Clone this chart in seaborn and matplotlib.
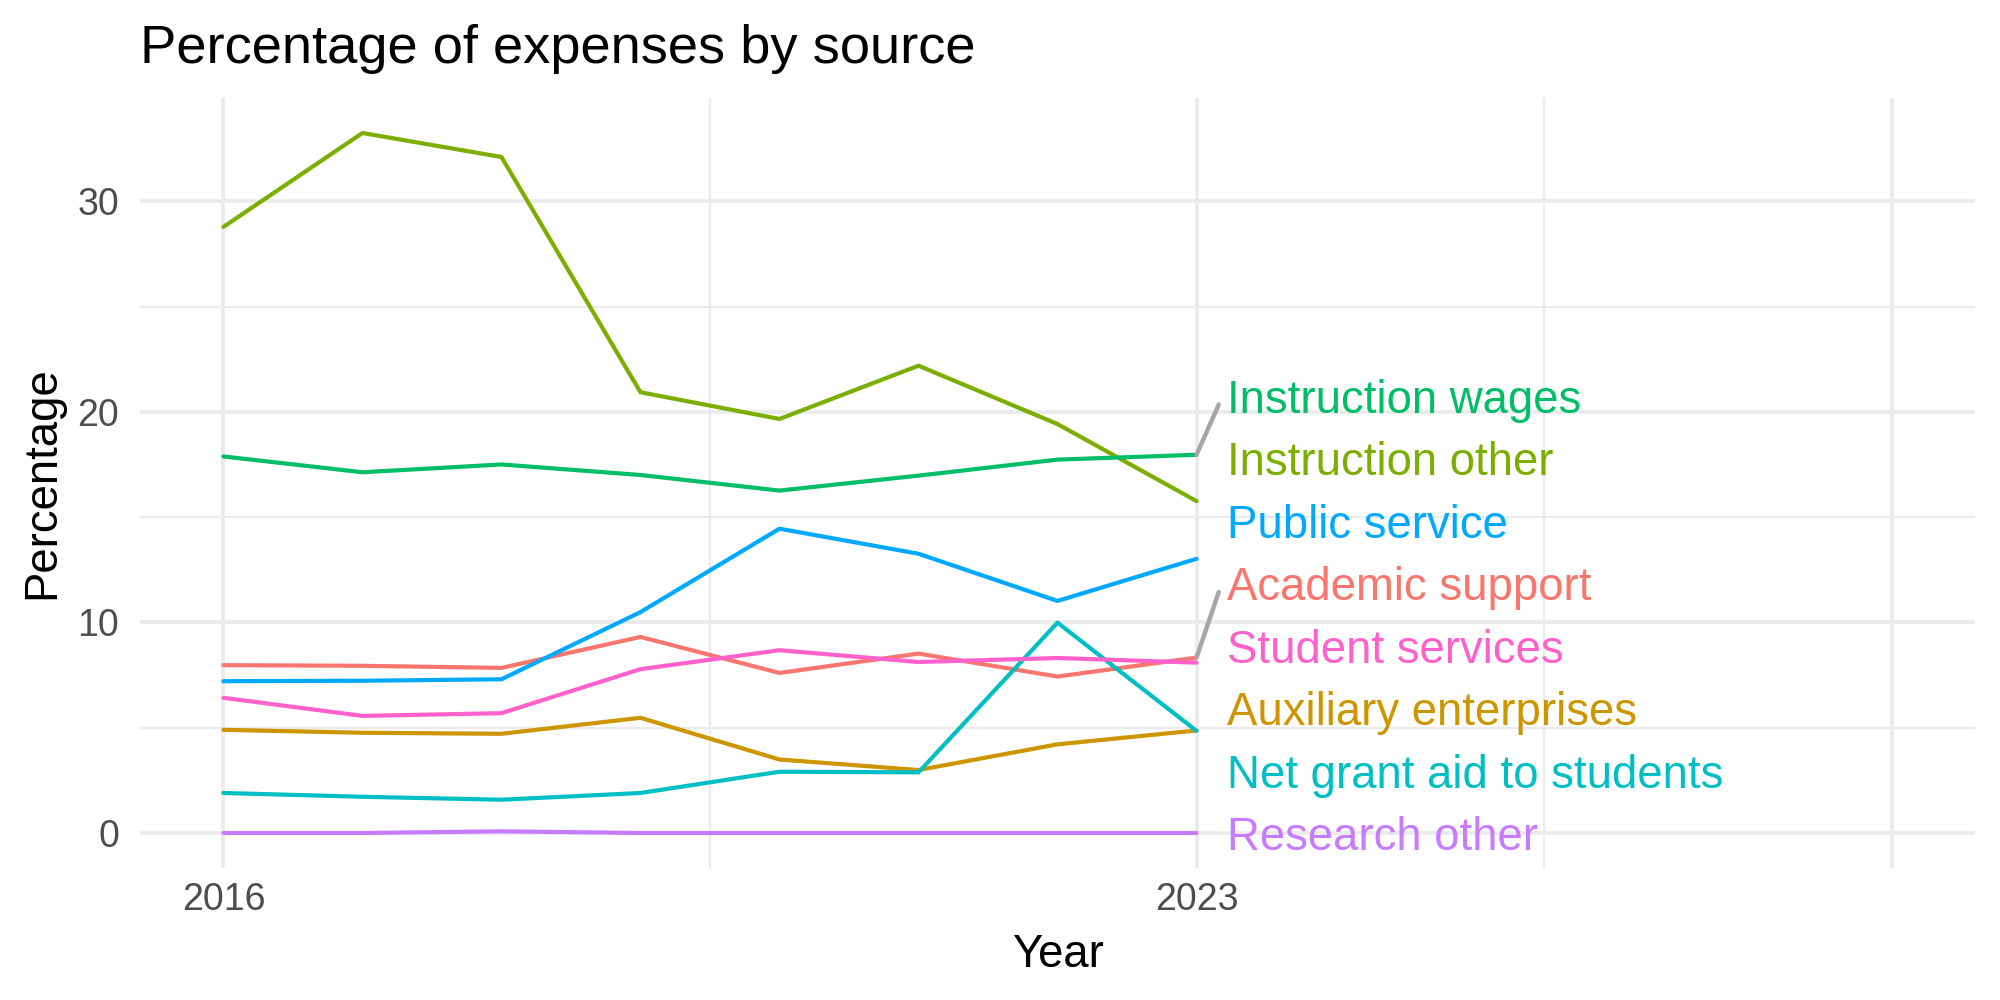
import matplotlib
matplotlib.use("Agg")
from matplotlib import pyplot as plt
import seaborn as sns
import numpy as np
import pandas as pd

years = [2016, 2017, 2018, 2019, 2020, 2021, 2022, 2023]

academic_support = [7.97, 7.94, 7.84, 9.31, 7.60, 8.52, 7.43, 8.33]
auxiliary_enterprises = [4.90, 4.76, 4.71, 5.47, 3.49, 2.99, 4.21, 4.87]
instruction_other = [28.78, 33.24, 32.10, 20.93, 19.66, 22.19, 19.42, 15.76]
instruction_wages = [17.88, 17.13, 17.50, 17.00, 16.26, 16.97, 17.73, 17.96]
net_grant_aid = [1.90, 1.72, 1.58, 1.90, 2.91, 2.88, 9.99, 4.85]
public_service = [7.21, 7.23, 7.30, 10.49, 14.45, 13.26, 11.02, 13.02]
research_other = [0.0, 0.0, 0.08, 0.0, 0.0, 0.0, 0.0, 0.0]
student_services = [6.42, 5.56, 5.69, 7.78, 8.68, 8.12, 8.31, 8.09]

sources = {
    "Academic support": academic_support,
    "Auxiliary enterprises": auxiliary_enterprises,
    "Instruction other": instruction_other,
    "Instruction wages": instruction_wages,
    "Net grant aid to students": net_grant_aid,
    "Public service": public_service,
    "Research other": research_other,
    "Student services": student_services,
}

# ggplot default hue palette, alphabetical order
palette = ["#F8766D", "#CD9600", "#7CAE00", "#00BE67",
           "#00BFC4", "#00A9FF", "#C77CFF", "#FF61CC"]

x_breaks = [2016, 2023, 2028]
x_labels = ["2016", "2023", ""]
x_minor = [2019.5, 2025.5]

rows = []
for name, vals in sources.items():
    for yr, v in zip(years, vals):
        rows.append({"Year": yr, "Percentage": v, "source": name})
df = pd.DataFrame(rows)
names = list(sources.keys())
colors = dict(zip(names, palette))

sns.set_theme(style="white")
plt.rcParams["font.family"] = ["Liberation Sans", "DejaVu Sans"]
plt.rcParams["text.color"] = "black"
plt.rcParams["axes.labelcolor"] = "black"

fig = plt.figure(figsize=(10, 5), dpi=200)
ax = fig.add_axes([0.07, 0.132, 0.9175, 0.77])

sns.lineplot(data=df, x="Year", y="Percentage", hue="source",
             hue_order=names, palette=palette, linewidth=1.5,
             legend=False, ax=ax, zorder=3)

# limits: 2016-2028 and data range, each with 5% expansion
xr = x_breaks[-1] - x_breaks[0]
ax.set_xlim(x_breaks[0] - 0.05 * xr, x_breaks[-1] + 0.05 * xr)
ymin, ymax = df["Percentage"].min(), df["Percentage"].max()
yr_ = ymax - ymin
ax.set_ylim(ymin - 0.05 * yr_, ymax + 0.05 * yr_)

ax.set_xticks(x_breaks)
ax.set_xticklabels(x_labels)
ax.set_xticks(x_minor, minor=True)
ax.set_yticks([0, 10, 20, 30])
ax.set_yticks([5, 15, 25], minor=True)
ax.grid(which="major", axis="y", color="#EBEBEB", linewidth=1.4, zorder=0)
ax.grid(which="minor", axis="y", color="#EBEBEB", linewidth=0.8, zorder=0)
ax.grid(which="major", axis="x", color="#EBEBEB", linewidth=1.4, zorder=0)
ax.grid(which="minor", axis="x", color="#EBEBEB", linewidth=0.8, zorder=0)
ax.set_axisbelow(True)
for s in ax.spines.values():
    s.set_visible(False)
ax.tick_params(which="both", length=0)
ax.tick_params(axis="x", labelsize=13.5, labelcolor="#4D4D4D", pad=5)
ax.tick_params(axis="y", labelsize=13.5, labelcolor="#4D4D4D", pad=7.5)

ax.set_xlabel("Year", fontsize=16.4, va="center")
ax.xaxis.set_label_coords(0.5, -0.113)
ax.set_ylabel("Percentage", fontsize=16.4, va="center")
ax.yaxis.set_label_coords(-0.053, 0.5)

fig.text(0.07, 1 - 63 / 1000, "Percentage of expenses by source",
         fontsize=19.6, va="baseline", ha="left")

# end labels, spread vertically (simple repel along y)
label_gap = 2.967
nudge = 0.45
last = years[-1]
ends = sorted(((vals[-1], name) for name, vals in sources.items()), reverse=True)
w = [v + i * label_gap for i, (v, _) in enumerate(ends)]
# pool adjacent violators -> non-increasing
blocks = []
for val in w:
    blocks.append([val, 1])
    while len(blocks) > 1 and blocks[-2][0] / blocks[-2][1] < blocks[-1][0] / blocks[-1][1]:
        s2, n2 = blocks.pop()
        blocks[-1][0] += s2
        blocks[-1][1] += n2
z = []
for s, n in blocks:
    z += [s / n] * n

for i, (v, name) in enumerate(ends):
    base = z[i] - i * label_gap + nudge
    ax.text(last + 0.22, base, name, color=colors[name], fontsize=16.4,
            va="baseline", ha="left", zorder=4)
    if abs(v - (base + 0.75)) > 2.3:
        ax.plot([last, last + 0.16], [v, base + 0.4], color="#A6A6A6",
                linewidth=1.6, zorder=4, solid_capstyle="round")

fig.savefig("out.png", dpi=200)
